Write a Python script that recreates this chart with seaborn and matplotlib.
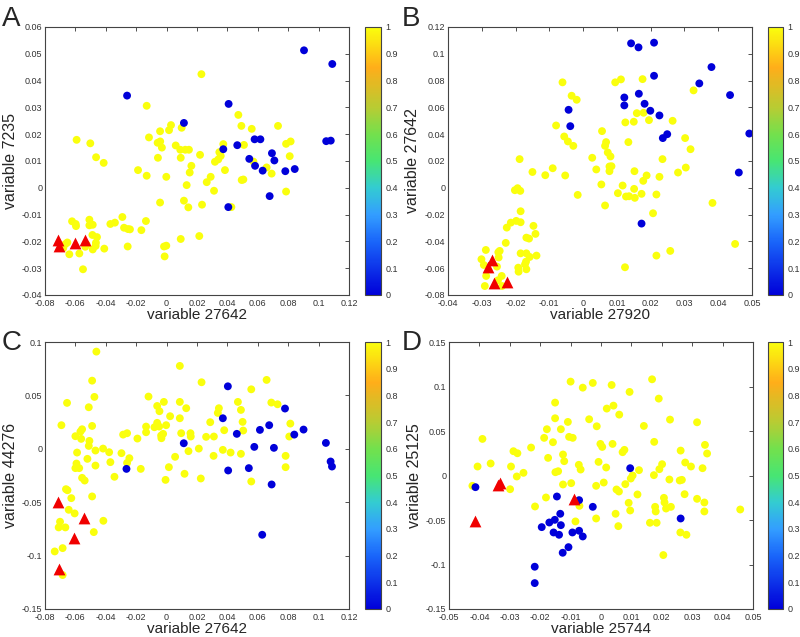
import numpy as np
import matplotlib
matplotlib.use("Agg")
import matplotlib.pyplot as plt
import seaborn as sns
from matplotlib.colors import LinearSegmentedColormap, Normalize
from matplotlib.cm import ScalarMappable

# ---- data ----
# panel A: variable 27642 vs variable 7235
a_yel_x = [0.0229, -0.0131, -0.0592, -0.0502, -0.0464, -0.0414, -0.0188, -0.0131, -0.0116, -0.0043,
           -0.0059, -0.0042, -0.0031, 0.0016, 0.0029, 0.0099, 0.0060, 0.0090, 0.0123, 0.0147,
           0.0093, -0.0057, -0.0002, 0.0163, 0.0152, 0.0132, 0.0220, 0.0290, 0.0264, 0.0312,
           0.0318, 0.0340, 0.0347, 0.0356, 0.0384, 0.0373, 0.0472, 0.0492, 0.0509, 0.0494,
           0.0505, 0.0560, 0.0571, 0.0658, 0.0691, 0.0733, 0.0786, 0.0816, 0.0810, 0.0786,
           0.0426, -0.0043, 0.0114, 0.0143, 0.0233, -0.0136, -0.0291, -0.0280, -0.0254, -0.0241,
           -0.0166, -0.0370, -0.0340, -0.0256, -0.0410, 0.0093, 0.0215, -0.0017, -0.0002, -0.0013,
           -0.0622, -0.0598, -0.0596, -0.0508, -0.0508, -0.0486, -0.0488, -0.0458, -0.0486, -0.0467,
           -0.0465, -0.0526, -0.0535, -0.0574, -0.0640, -0.0666, -0.0550, -0.0653, -0.0680]
a_yel_y = [0.0424, 0.0306, 0.0179, 0.0166, 0.0114, 0.0093, 0.0066, 0.0045, 0.0188, 0.0211,
           0.0168, 0.0173, 0.0150, 0.0215, 0.0234, 0.0224, 0.0158, 0.0142, 0.0142, 0.0142,
           0.0112, 0.0112, 0.0041, 0.0082, 0.0057, 0.0010, 0.0123, 0.0041, 0.0021, -0.0011,
           0.0097, 0.0106, 0.0133, 0.0119, 0.0066, 0.0163, 0.0272, 0.0231, 0.0160, 0.0029,
           0.0031, 0.0220, 0.0098, 0.0076, 0.0053, 0.0231, 0.0164, 0.0173, 0.0118, -0.0014,
           -0.0072, -0.0055, -0.0048, -0.0073, -0.0063, -0.0124, -0.0109, -0.0149, -0.0154, -0.0155,
           -0.0158, -0.0135, -0.0130, -0.0219, -0.0227, -0.0191, -0.0180, -0.0219, -0.0216, -0.0256,
           -0.0125, -0.0135, -0.0143, -0.0119, -0.0140, -0.0138, -0.0176, -0.0184, -0.0230, -0.0217,
           -0.0205, -0.0212, -0.0220, -0.0245, -0.0248, -0.0210, -0.0304, -0.0204, -0.0225]
a_blu_x = [0.0904, 0.1090, -0.0260, 0.0408, 0.0114, 0.0373, 0.0465, 0.0579, 0.0617, 0.1050,
           0.1080, 0.0544, 0.0582, 0.0632, 0.0693, 0.0709, 0.0781, 0.0843, 0.0678, 0.0406]
a_blu_y = [0.0513, 0.0462, 0.0344, 0.0313, 0.0242, 0.0144, 0.0159, 0.0181, 0.0181, 0.0174,
           0.0176, 0.0108, 0.0082, 0.0064, 0.0129, 0.0102, 0.0062, 0.0070, -0.0031, -0.0072]
a_tri_x = [-0.0717, -0.0706, -0.0605, -0.0537]
a_tri_y = [-0.0195, -0.0216, -0.0205, -0.0194]

# panel B: variable 27920 vs variable 27642
b_yel_x = [-0.0061, -0.0034, -0.0019, -0.0080, -0.0056, -0.0045, -0.0029, 0.0095, 0.0112, 0.0176,
           0.0327, 0.0159, 0.0179, 0.0195, 0.0125, 0.0150, 0.0265, 0.0302, 0.0318, 0.0134,
           0.0056, 0.0068, 0.0065, 0.0073, 0.0081, 0.0078, 0.0084, 0.0078, 0.0027, 0.0039,
           -0.0053, -0.0016, -0.0112, -0.0090, -0.0150, -0.0188, -0.0202, -0.0194, -0.0186, -0.0185,
           -0.0198, -0.0185, -0.0214, -0.0226, -0.0229, -0.0168, -0.0160, -0.0147, -0.0141, -0.0138,
           -0.0185, -0.0168, -0.0158, -0.0169, -0.0172, -0.0192, -0.0168, -0.0191, -0.0288, -0.0301,
           -0.0294, -0.0287, -0.0291, -0.0247, -0.0251, -0.0255, -0.0241, -0.0252, -0.0240, -0.0250,
           0.0065, 0.0054, 0.0103, 0.0117, 0.0127, 0.0136, 0.0153, 0.0151, 0.0152, 0.0173,
           0.0178, 0.0188, 0.0217, 0.0226, 0.0235, 0.0207, 0.0281, 0.0304, 0.0383, 0.0124,
           0.0217, 0.0258, 0.0450]
b_yel_y = [0.0787, 0.0687, 0.0657, 0.0465, 0.0383, 0.0346, 0.0313, 0.0787, 0.0809, 0.0811,
           0.0727, 0.0557, 0.0560, 0.0505, 0.0488, 0.0493, 0.0500, 0.0371, 0.0288, 0.0341,
           0.0423, 0.0341, 0.0313, 0.0264, 0.0234, 0.0159, 0.0161, 0.0124, 0.0224, 0.0137,
           0.0092, -0.0053, 0.0094, 0.0146, 0.0118, 0.0214, -0.0018, -0.0003, -0.0023, -0.0175,
           -0.0247, -0.0257, -0.0260, -0.0297, -0.0411, -0.0372, -0.0379, -0.0284, -0.0344, -0.0506,
           -0.0489, -0.0489, -0.0516, -0.0551, -0.0571, -0.0596, -0.0608, -0.0626, -0.0464, -0.0533,
           -0.0576, -0.0658, -0.0733, -0.0471, -0.0481, -0.0588, -0.0658, -0.0690, -0.0733, -0.0520,
           -0.0132, 0.0025, -0.0040, 0.0017, -0.0065, -0.0063, -0.0075, -0.0008, 0.0124, -0.0045,
           0.0052, 0.0092, -0.0050, 0.0082, 0.0214, -0.0190, 0.0114, 0.0151, -0.0113, -0.0593,
           -0.0506, -0.0471, -0.0419]
b_blu_x = [0.0142, 0.0164, 0.0210, 0.0210, 0.0380, 0.0344, 0.0435, 0.0492, 0.0461, 0.0165,
           0.0122, 0.0122, 0.0182, 0.0199, 0.0226, 0.0249, 0.0236, -0.0043, -0.0038, 0.0173]
b_blu_y = [0.1078, 0.1048, 0.1083, 0.0836, 0.0901, 0.0779, 0.0692, 0.0405, 0.0114, 0.0702,
           0.0674, 0.0615, 0.0627, 0.0575, 0.0540, 0.0400, 0.0371, 0.0582, 0.0460, -0.0267]
b_tri_x = [-0.0270, -0.0283, -0.0265, -0.0226]
b_tri_y = [-0.0536, -0.0593, -0.0708, -0.0700]

# panel C: variable 27642 vs variable 44276
c_yel_x = [-0.0462, -0.0490, -0.0475, -0.0655, -0.0512, -0.0692, -0.0490, -0.0600, -0.0556, -0.0567,
           -0.0562, -0.0508, -0.0512, -0.0468, -0.0418, -0.0378, -0.0370, -0.0343, -0.0297, -0.0286,
           -0.0260, -0.0245, -0.0260, -0.0192, -0.0170, -0.0589, -0.0593, -0.0600, -0.0575, -0.0556,
           -0.0539, -0.0521, -0.0468, -0.0662, -0.0652, -0.0627, -0.0490, -0.0644, -0.0605, -0.0416,
           -0.0701, -0.0710, -0.0666, -0.0479, -0.0684, -0.0736, -0.0684, -0.0119, -0.0135, -0.0135,
           -0.0062, -0.0047, -0.0018, -0.0080, -0.0062, -0.0049, -0.0036, -0.0034, -0.0023, -0.0003,
           0.0023, 0.0087, 0.0087, 0.0087, 0.0096, 0.0129, 0.0157, 0.0159, 0.0144, 0.0056,
           0.0118, 0.0015, -0.0007, 0.0212, 0.0230, 0.0225, 0.0260, 0.0287, 0.0311, 0.0309,
           0.0337, 0.0344, 0.0379, 0.0370, 0.0421, 0.0469, 0.0489, 0.0500, 0.0504, 0.0489,
           0.0557, 0.0557, 0.0658, 0.0689, 0.0730, 0.0814, 0.0807, 0.0783, 0.0783]
c_yel_y = [0.0910, 0.0638, 0.0486, 0.0430, 0.0389, 0.0221, 0.0214, 0.0118, 0.0183, 0.0161,
           0.0093, 0.0074, 0.0027, -0.0016, 0.0002, -0.0032, -0.0125, -0.0262, -0.0041, 0.0133,
           0.0146, -0.0088, -0.0132, 0.0096, -0.0188, -0.0035, -0.0138, -0.0181, -0.0181, -0.0272,
           -0.0297, -0.0094, -0.0157, -0.0378, -0.0388, -0.0462, -0.0446, -0.0571, -0.0605, -0.0674,
           -0.0683, -0.0736, -0.0736, -0.0780, -0.0930, -0.0961, -0.1182, 0.0489, 0.0208, 0.0155,
           0.0401, 0.0352, 0.0439, 0.0202, 0.0243, 0.0208, 0.0124, 0.0099, 0.0140, 0.0221,
           0.0305, 0.0776, 0.0439, 0.0286, 0.0146, 0.0380, 0.0146, 0.0115, -0.0022, -0.0075,
           -0.0234, -0.0172, -0.0291, 0.0002, 0.0623, -0.0278, 0.0112, 0.0249, 0.0115, -0.0066,
           0.0336, 0.0380, 0.0174, -0.0010, -0.0035, 0.0439, 0.0364, 0.0252, 0.0171, -0.0047,
           0.0557, -0.0306, 0.0645, 0.0433, 0.0417, 0.0236, 0.0115, -0.0066, -0.0172]
c_blu_x = [0.0403, 0.0370, 0.0113, -0.0264, 0.0405, 0.0462, 0.0541, 0.0577, 0.0614, 0.0675,
           0.0706, 0.0691, 0.0779, 0.0840, 0.0901, 0.0629, 0.1048, 0.1079, 0.1088]
c_blu_y = [0.0585, 0.0286, 0.0052, -0.0188, -0.0203, 0.0140, -0.0181, 0.0018, 0.0177, 0.0221,
           0.0009, -0.0334, 0.0377, 0.0133, 0.0180, -0.0805, 0.0055, -0.0119, -0.0166]
c_tri_x = [-0.0717, -0.0541, -0.0609, -0.0710]
c_tri_y = [-0.0496, -0.0646, -0.0839, -0.1126]

# panel D: variable 25744 vs variable 25125
d_yel_x = [-0.0390, -0.0406, -0.0423, -0.0363, -0.0296, -0.0288, -0.0275, -0.0277, -0.0255, -0.0299,
           -0.0230, -0.0217, -0.0187, -0.0178, -0.0174, -0.0181, -0.0158, -0.0151, -0.0151, -0.0150,
           -0.0141, -0.0132, -0.0125, -0.0121, -0.0125, -0.0109, -0.0105, -0.0093, -0.0100, -0.0098,
           -0.0073, -0.0067, -0.0071, -0.0084, -0.0060, -0.0039, -0.0027, -0.0014, -0.0008, -0.0002,
           0.0004, -0.0016, -0.0016, 0.0009, 0.0017, 0.0019, 0.0038, 0.0041, 0.0035, 0.0060,
           0.0051, 0.0059, 0.0048, 0.0057, 0.0071, 0.0077, 0.0080, 0.0094, 0.0091, 0.0096,
           0.0098, 0.0104, 0.0125, 0.0120, 0.0141, 0.0168, 0.0175, 0.0174, 0.0192, 0.0201,
           0.0190, 0.0227, 0.0225, 0.0207, 0.0209, 0.0214, 0.0230, 0.0178, 0.0180, 0.0161,
           0.0183, 0.0205, 0.0262, 0.0259, 0.0266, 0.0277, 0.0296, 0.0275, 0.0261, 0.0281,
           0.0316, 0.0316, 0.0334, 0.0340, 0.0340, 0.0342, 0.0349, 0.0458]
d_yel_y = [0.0411, 0.0101, -0.0116, 0.0135, 0.0101, 0.0273, 0.0250, -0.0011, 0.0030, -0.0154,
           0.0314, -0.0348, 0.0423, 0.0520, 0.0198, -0.0247, 0.0374, 0.0819, 0.0643, 0.0037,
           0.0048, 0.0520, 0.0236, 0.0161, -0.0101, 0.0602, 0.0434, 0.0423, 0.1055, -0.0086,
           0.0120, 0.0067, -0.0341, -0.0516, 0.0987, 0.0632, 0.1040, 0.0553, 0.0153, 0.0355,
           0.0321, -0.0116, -0.0483, -0.0079, 0.0090, 0.0752, 0.0355, 0.0785, 0.1017, 0.0684,
           -0.0157, -0.0180, -0.0430, -0.0569, 0.0262, 0.0288, -0.0097, 0.0939, -0.0307, -0.0393,
           -0.0034, 0.0000, 0.0060, -0.0213, 0.0557, 0.1081, 0.0378, 0.0004, 0.0071, 0.0127,
           0.0864, 0.0628, -0.0045, -0.0251, -0.0303, -0.0371, -0.0352, -0.0352, -0.0404, -0.0531,
           -0.0531, -0.0894, 0.0280, -0.0056, -0.0049, 0.0146, 0.0101, -0.0210, -0.0640, -0.0666,
           0.0598, -0.0262, 0.0082, -0.0303, -0.0404, 0.0344, 0.0247, -0.0382]
d_blu_x = [-0.0413, 0.0096, -0.0145, -0.0072, -0.0027, -0.0134, -0.0170, -0.0152, -0.0132, -0.0195,
           -0.0156, -0.0138, -0.0094, -0.0072, -0.0060, -0.0107, -0.0126, -0.0218, -0.0218, 0.0262]
d_blu_y = [-0.0131, 0.0082, -0.0236, -0.0277, -0.0352, -0.0430, -0.0528, -0.0498, -0.0558, -0.0580,
           -0.0640, -0.0666, -0.0640, -0.0621, -0.0685, -0.0805, -0.0868, -0.1025, -0.1209, -0.0483]
d_tri_x = [-0.0331, -0.0340, -0.0415, -0.0089]
d_tri_y = [-0.0083, -0.0105, -0.0513, -0.0266]

# axis labels, limits and ticks
panel_letters = ["A", "B", "C", "D"]
x_labels = ["variable 27642", "variable 27920", "variable 27642", "variable 25744"]
y_labels = ["variable 7235", "variable 27642", "variable 44276", "variable 25125"]
x_ticks = [np.arange(-0.08, 0.121, 0.02), np.arange(-0.04, 0.051, 0.01),
           np.arange(-0.08, 0.121, 0.02), np.arange(-0.05, 0.051, 0.01)]
y_ticks = [np.arange(-0.04, 0.061, 0.01), np.arange(-0.08, 0.121, 0.02),
           np.arange(-0.15, 0.101, 0.05), np.arange(-0.15, 0.151, 0.05)]

panels = [
    (a_yel_x, a_yel_y, a_blu_x, a_blu_y, a_tri_x, a_tri_y),
    (b_yel_x, b_yel_y, b_blu_x, b_blu_y, b_tri_x, b_tri_y),
    (c_yel_x, c_yel_y, c_blu_x, c_blu_y, c_tri_x, c_tri_y),
    (d_yel_x, d_yel_y, d_blu_x, d_blu_y, d_tri_x, d_tri_y),
]

# colour map similar to the one in the figure (blue -> cyan -> green -> orange -> yellow)
cmap = LinearSegmentedColormap.from_list("custom", [
    (0.0, (0.0, 0.0, 0.85)),
    (0.2, (0.1, 0.4, 0.98)),
    (0.3, (0.2, 0.62, 1.0)),
    (0.4, (0.2, 0.8, 0.82)),
    (0.5, (0.28, 0.9, 0.45)),
    (0.6, (0.45, 0.88, 0.3)),
    (0.7, (0.72, 0.8, 0.2)),
    (0.85, (1.0, 0.68, 0.1)),
    (1.0, (0.98, 1.0, 0.05)),
])
norm = Normalize(0, 1)

sns.set_style("white")
plt.rcParams['font.family'] = ['Liberation Sans', 'DejaVu Sans']

fig = plt.figure(figsize=(8, 6.37), dpi=100)
W, H = 800, 637

# pixel boxes (left, top, right, bottom) of each axes / colorbar
ax_boxes = [(45, 27, 349, 295), (448, 27, 752, 295), (45, 342, 349, 609), (449, 342, 753, 609)]
cb_boxes = [(365, 27, 381, 295), (768, 27, 783, 295), (365, 342, 381, 609), (768, 342, 783, 609)]
letter_pos = [(2, 6), (402, 6), (2, 330), (402, 330)]

for i, (yx, yy, bx, by, tx, ty) in enumerate(panels):
    l, t, r, b = ax_boxes[i]
    ax = fig.add_axes([l / W, 1 - b / H, (r - l) / W, (b - t) / H])
    sns.scatterplot(x=yx, y=yy, hue=[1.0] * len(yx), palette=cmap, hue_norm=norm,
                    s=32, linewidth=0, legend=False, ax=ax)
    sns.scatterplot(x=bx, y=by, hue=[0.0] * len(bx), palette=cmap, hue_norm=norm,
                    s=32, linewidth=0, legend=False, ax=ax)
    sns.scatterplot(x=tx, y=ty, marker="^", color="#f00000", s=72, linewidth=0,
                    legend=False, ax=ax)

    ax.set_xlim(x_ticks[i][0], x_ticks[i][-1])
    ax.set_ylim(y_ticks[i][0], y_ticks[i][-1])
    ax.set_xticks(x_ticks[i])
    ax.set_yticks(y_ticks[i])
    ax.set_xticklabels([f"{v:g}" if abs(v) > 1e-9 else "0" for v in np.round(x_ticks[i], 3)])
    ax.set_yticklabels([f"{v:g}" if abs(v) > 1e-9 else "0" for v in np.round(y_ticks[i], 3)])
    ax.tick_params(direction="in", length=3, width=0.6, labelsize=6.5, top=True, right=True,
                   colors="#333333", pad=2)
    ax.tick_params(axis="x", pad=3)
    for sp in ax.spines.values():
        sp.set_color("#444444")
        sp.set_linewidth(0.8)
    ax.set_xlabel(x_labels[i], fontsize=11, labelpad=0)
    ax.set_ylabel(y_labels[i], fontsize=11.5, labelpad=3)

    # colorbar
    cl, ct, cr, cbm = cb_boxes[i]
    cax = fig.add_axes([cl / W, 1 - cbm / H, (cr - cl) / W, (cbm - ct) / H])
    sm = ScalarMappable(norm=norm, cmap=cmap)
    cb = fig.colorbar(sm, cax=cax, ticks=np.linspace(0, 1, 11))
    cb.ax.set_yticklabels([f"{v:g}" for v in np.round(np.linspace(0, 1, 11), 1)])
    cb.ax.tick_params(direction="in", length=2.5, width=0.6, labelsize=6.5, colors="#333333", pad=3)
    cb.outline.set_edgecolor("#444444")
    cb.outline.set_linewidth(0.8)

    lx, ly = letter_pos[i]
    fig.text(lx / W, 1 - ly / H, panel_letters[i], fontsize=20, va="top", ha="left")

fig.savefig("out.png", dpi=100)
